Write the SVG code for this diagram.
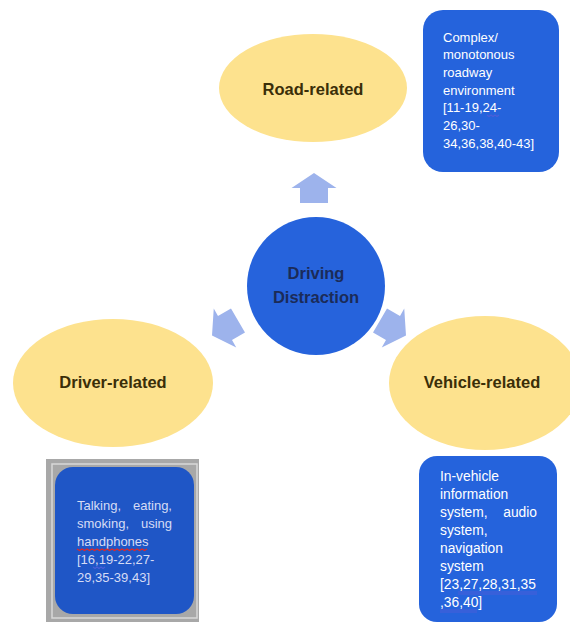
<svg xmlns="http://www.w3.org/2000/svg" width="570" height="622" viewBox="0 0 570 622">
<defs>
<style>
.ell{fill:#fde28e;}
.lbl{font-family:"Liberation Sans",Arial,sans-serif;font-weight:bold;font-size:16.5px;fill:#3a2e08;text-anchor:middle;}
.ctr{font-family:"Liberation Sans",Arial,sans-serif;font-weight:bold;font-size:16.5px;fill:#1b2b58;text-anchor:middle;}
.box{fill:#2563dc;}
.txt{font-family:"Liberation Sans",Arial,sans-serif;font-size:13px;fill:#ffffff;}
.txt3{font-family:"Liberation Sans",Arial,sans-serif;font-size:13.8px;fill:#ffffff;}
.txt2{font-family:"Liberation Sans",Arial,sans-serif;font-size:13px;fill:#d6dcf5;}
.end{text-anchor:end;}
.arr{fill:#9db3ec;}
.wr{fill:none;stroke:#e02828;stroke-width:1.2;}
.wb{fill:none;stroke:#4a5fd8;stroke-width:1.2;}
</style>
<path id="blk" d="M0,-15 L22.5,0 L14,0 L14,15 L-14,15 L-14,0 L-22.5,0 Z"/>
</defs>
<rect width="570" height="622" fill="#ffffff"/>

<g id="connectors">
<use href="#blk" class="arr" transform="translate(314,188)"/>
<use href="#blk" class="arr" transform="translate(225,328) rotate(-120)"/>
<use href="#blk" class="arr" transform="translate(393,328) rotate(120)"/>
</g>

<g id="center">
<circle cx="316" cy="286" r="69" fill="#2663dc"/>
<text class="ctr" x="316" y="279">Driving</text>
<text class="ctr" x="316" y="303">Distraction</text>
</g>

<g id="road">
<ellipse class="ell" cx="313" cy="88" rx="94" ry="54"/>
<text class="lbl" x="313" y="95">Road-related</text>
</g>

<g id="driver">
<ellipse class="ell" cx="113" cy="383" rx="100" ry="64"/>
<text class="lbl" x="113" y="388">Driver-related</text>
</g>

<g id="vehicle">
<ellipse class="ell" cx="485" cy="383" rx="96" ry="67"/>
<text class="lbl" x="482" y="388">Vehicle-related</text>
</g>

<g id="road-box">
<rect class="box" x="423" y="10" width="136" height="162" rx="20"/>
<text class="txt" x="443" y="41.5">Complex/</text>
<text class="txt" x="443" y="59">monotonous</text>
<text class="txt" x="443" y="77">roadway</text>
<text class="txt" x="443" y="94.5">environment</text>
<text class="txt" x="443" y="112">[11-19,24-</text>
<text class="txt" x="443" y="130">26,30-</text>
<text class="txt" x="443" y="147.5">34,36,38,40-43]</text>
<path class="wb" d="M487,115 l2,1.5 l2,-1.5 l2,1.5 l2,-1.5 l2,1.5 l2,-1.5"/>
</g>

<g id="driver-box">
<rect x="46" y="459" width="153" height="163" fill="#a8a8a8"/>
<rect x="52" y="464" width="145" height="154" fill="none" stroke="#d8d8d8" stroke-width="1.5"/>
<rect x="55" y="467" width="139" height="147" rx="18" fill="#1f56c6"/>
<text class="txt2" x="77" y="510">Talking,</text>
<text class="txt2 end" x="172" y="510">eating,</text>
<text class="txt2" x="77" y="528">smoking,</text>
<text class="txt2 end" x="172" y="528">using</text>
<text class="txt2" x="77" y="546">handphones</text>
<text class="txt2" x="77" y="564">[16,19-22,27-</text>
<text class="txt2" x="77" y="582">29,35-39,43]</text>
<path class="wr" d="M77,549 l2.5,1.5 l2.5,-1.5 l2.5,1.5 l2.5,-1.5 l2.5,1.5 l2.5,-1.5 l2.5,1.5 l2.5,-1.5 l2.5,1.5 l2.5,-1.5 l2.5,1.5 l2.5,-1.5 l2.5,1.5 l2.5,-1.5 l2.5,1.5 l2.5,-1.5 l2.5,1.5 l2.5,-1.5 l2.5,1.5 l2.5,-1.5 l2.5,1.5 l2.5,-1.5 l2.5,1.5 l2.5,-1.5 l2.5,1.5 l2.5,-1.5 l2.5,1.5 l2.5,-1.5"/>
<path class="wb" d="M93,567 l2,1.5 l2,-1.5 l2,1.5 l2,-1.5 l2,1.5 l2,-1.5"/>
</g>

<g id="vehicle-box">
<rect class="box" x="419" y="456" width="138" height="166" rx="18"/>
<text class="txt3" x="440" y="481">In-vehicle</text>
<text class="txt3" x="440" y="499">information</text>
<text class="txt3" x="440" y="517">system,</text>
<text class="txt3 end" x="537" y="517">audio</text>
<text class="txt3" x="440" y="535">system,</text>
<text class="txt3" x="440" y="553">navigation</text>
<text class="txt3" x="440" y="571">system</text>
<text class="txt3" x="440" y="589">[23,27,28,31,35</text>
<text class="txt3" x="440" y="607">,36,40]</text>
<path class="wb" d="M458,592 h79 M458,594 h79"/>
<path class="wb" d="M440,610 h37 M440,612 h37"/>
</g>
</svg>
